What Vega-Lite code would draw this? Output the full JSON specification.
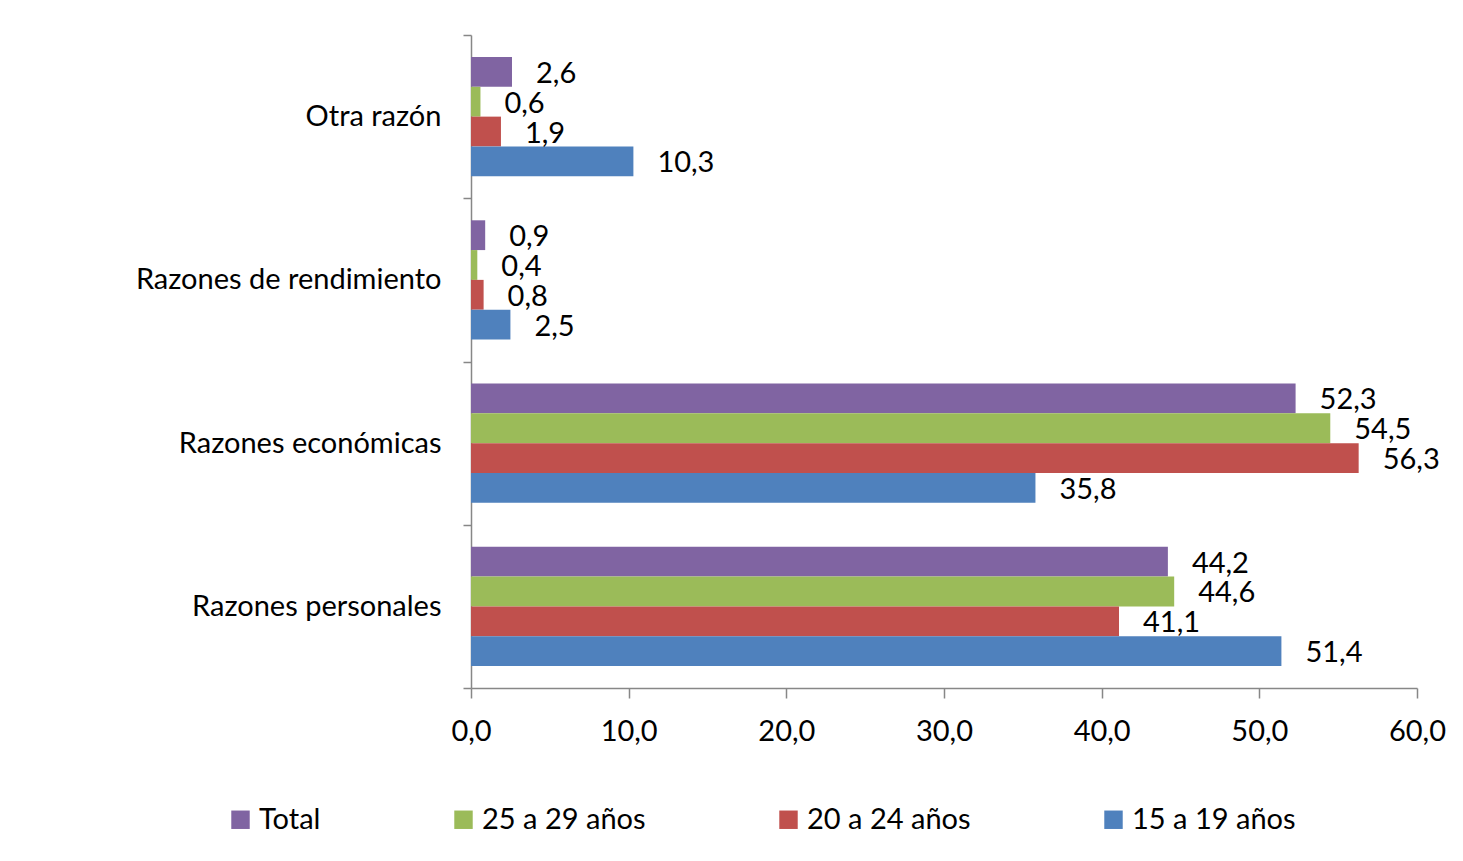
{
  "$schema": "https://vega.github.io/schema/vega-lite/v6.json",
  "width": 946,
  "height": 653,
  "autosize": {"type": "none"},
  "padding": {"left": 471, "top": 35, "right": 46, "bottom": 173},
  "background": "white",
  "data": {
    "values": [
      {"razon": "Otra razón", "grupo": "Total", "valor": 2.6},
      {"razon": "Otra razón", "grupo": "25 a 29 años", "valor": 0.6},
      {"razon": "Otra razón", "grupo": "20 a 24 años", "valor": 1.9},
      {"razon": "Otra razón", "grupo": "15 a 19 años", "valor": 10.3},
      {"razon": "Razones de rendimiento", "grupo": "Total", "valor": 0.9},
      {"razon": "Razones de rendimiento", "grupo": "25 a 29 años", "valor": 0.4},
      {"razon": "Razones de rendimiento", "grupo": "20 a 24 años", "valor": 0.8},
      {"razon": "Razones de rendimiento", "grupo": "15 a 19 años", "valor": 2.5},
      {"razon": "Razones económicas", "grupo": "Total", "valor": 52.3},
      {"razon": "Razones económicas", "grupo": "25 a 29 años", "valor": 54.5},
      {"razon": "Razones económicas", "grupo": "20 a 24 años", "valor": 56.3},
      {"razon": "Razones económicas", "grupo": "15 a 19 años", "valor": 35.8},
      {"razon": "Razones personales", "grupo": "Total", "valor": 44.2},
      {"razon": "Razones personales", "grupo": "25 a 29 años", "valor": 44.6},
      {"razon": "Razones personales", "grupo": "20 a 24 años", "valor": 41.1},
      {"razon": "Razones personales", "grupo": "15 a 19 años", "valor": 51.4}
    ]
  },
  "encoding": {
    "y": {
      "field": "razon",
      "type": "nominal",
      "sort": ["Otra razón", "Razones de rendimiento", "Razones económicas", "Razones personales"],
      "scale": {"paddingInner": 0, "paddingOuter": 0},
      "axis": {
        "title": null,
        "tickBand": "extent",
        "tickSize": 8,
        "labelPadding": 22,
        "labelFontSize": 29,
        "labelLimit": 500
      }
    },
    "yOffset": {
      "field": "grupo",
      "type": "nominal",
      "sort": ["Total", "25 a 29 años", "20 a 24 años", "15 a 19 años"],
      "scale": {"paddingInner": 0, "paddingOuter": 0.74}
    },
    "x": {
      "field": "valor",
      "type": "quantitative",
      "scale": {"domain": [0, 60], "nice": false},
      "axis": {
        "title": null,
        "values": [0, 10, 20, 30, 40, 50, 60],
        "format": ".1f",
        "grid": false,
        "tickSize": 10,
        "labelFlush": false,
        "labelPadding": 19,
        "labelFontSize": 29
      }
    }
  },
  "layer": [
    {
      "mark": {"type": "bar"},
      "encoding": {
        "color": {
          "field": "grupo",
          "type": "nominal",
          "sort": ["Total", "25 a 29 años", "20 a 24 años", "15 a 19 años"],
          "scale": {
            "domain": ["Total", "25 a 29 años", "20 a 24 años", "15 a 19 años"],
            "range": ["#8064A2", "#9BBB59", "#C0504D", "#4F81BD"]
          },
          "legend": {
            "title": null,
            "orient": "none",
            "direction": "horizontal",
            "legendX": -245,
            "legendY": 770,
            "padding": 0,
            "symbolType": "square",
            "symbolSize": 340,
            "symbolStrokeWidth": 0,
            "labelOffset": 4,
            "labelFontSize": 29,
            "columnPadding": 128,
            "labelLimit": 400
          }
        }
      }
    },
    {
      "mark": {"type": "text", "align": "left", "baseline": "middle", "dx": 24, "dy": 2, "fontSize": 29, "color": "black"},
      "encoding": {
        "text": {"field": "valor", "type": "quantitative", "format": ".1f"}
      }
    }
  ],
  "config": {
    "locale": {
      "number": {"decimal": ",", "thousands": ".", "grouping": [3], "currency": ["", " €"]}
    },
    "font": "Lato",
    "view": {"stroke": null},
    "axis": {
      "domainColor": "#878787",
      "tickColor": "#878787",
      "domainWidth": 1.5,
      "tickWidth": 1.5,
      "labelColor": "black",
      "labelFont": "Lato"
    },
    "legend": {"labelColor": "black", "labelFont": "Lato"}
  }
}
